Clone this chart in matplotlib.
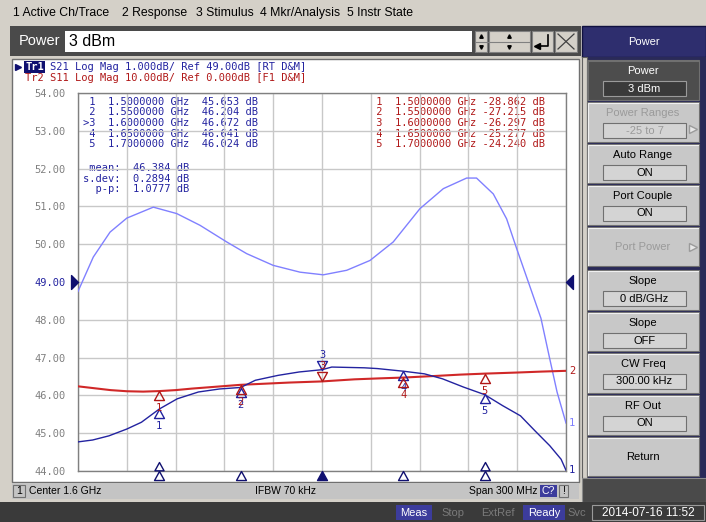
import matplotlib
matplotlib.use('Agg')
import numpy as np
import matplotlib.pyplot as plt
from matplotlib.patches import Rectangle
from matplotlib.path import Path
import matplotlib.transforms as mtrans

# ---------------- data ----------------
tr1_freq = [1.45, 1.459, 1.469, 1.480, 1.489, 1.500, 1.511, 1.524, 1.537, 1.550, 1.559,
            1.573, 1.586, 1.600, 1.606, 1.626, 1.634, 1.650, 1.663, 1.674, 1.687, 1.700,
            1.711, 1.722, 1.731, 1.740, 1.747, 1.750]
tr1_db = [44.77, 44.82, 44.93, 45.11, 45.29, 45.64, 45.91, 46.09, 46.17, 46.21, 46.40,
          46.53, 46.62, 46.68, 46.75, 46.73, 46.71, 46.64, 46.57, 46.44, 46.22, 46.02,
          45.73, 45.46, 45.06, 44.67, 44.31, 44.02]

mem_freq = [1.45, 1.4594, 1.4697, 1.480, 1.4963, 1.5107, 1.525, 1.5414, 1.5537, 1.570,
            1.5865, 1.6008, 1.6152, 1.6295, 1.6438, 1.6602, 1.6746, 1.6889, 1.695, 1.7053,
            1.7135, 1.7197, 1.7279, 1.7346, 1.740, 1.7445, 1.750]
mem_db = [48.75, 49.66, 50.32, 50.69, 50.98, 50.81, 50.50, 50.06, 49.75, 49.44,
          49.26, 49.19, 49.31, 49.57, 50.06, 50.94, 51.47, 51.75, 51.75, 51.33,
          50.67, 49.88, 48.87, 48.04, 46.97, 46.09, 45.27]

tr2_freq = [1.45, 1.46, 1.47, 1.48, 1.49, 1.50, 1.51, 1.52, 1.535, 1.55, 1.565, 1.58,
            1.60, 1.62, 1.635, 1.65, 1.67, 1.685, 1.70, 1.72, 1.735, 1.75]
tr2_db = [-27.6, -28.1, -28.6, -28.9, -29.0, -28.86, -28.6, -28.2, -27.7, -27.2, -26.9,
          -26.6, -26.3, -25.75, -25.5, -25.28, -24.85, -24.5, -24.24, -23.95, -23.7, -23.5]

marker_freq = [1.5, 1.55, 1.6, 1.65, 1.7]
marker_ids = ["1", "2", "3", "4", "5"]
tr1_marker_db = [45.653, 46.204, 46.672, 46.641, 46.024]
tr2_marker_db = [-28.862, -27.215, -26.297, -25.277, -24.240]
active_marker = 2
stat_names = ["mean:", "s.dev:", "p-p:"]
stat_values = ["46.384", "0.2894", "1.0777"]

tr1_ref, tr1_scale = 49.0, 1.0
tr2_ref, tr2_scale = 0.0, 10.0
ytick_vals = list(range(44, 55))

menu_items = ["1 Active Ch/Trace", "2 Response", "3 Stimulus", "4 Mkr/Analysis", "5 Instr State"]
softkeys = [("Power", "3 dBm"), ("Power Ranges", "-25 to 7"), ("Auto Range", "ON"),
            ("Port Couple", "ON"), ("Port Power", None), ("Slope", "0 dB/GHz"),
            ("Slope", "OFF"), ("CW Freq", "300.00 kHz"), ("RF Out", "ON"), ("Return", None)]
softkey_disabled = [False, True, False, False, True, False, False, False, False, False]

# ---------------- styles ----------------
MONO = 'DejaVu Sans Mono'
SANS = 'Liberation Sans'
BLUE = '#2323a0'
LBLUE = '#8080ff'
RED = '#d02828'
REDTXT = '#b01818'
NAVY = '#101070'
GRID = '#c8c8c8'
FS = 7.5

W, H = 706, 522
fig = plt.figure(figsize=(W / 100, H / 100), dpi=100)
fig.patch.set_facecolor('#d4d0c8')
bg = fig.add_axes([0, 0, 1, 1])
bg.set_xlim(0, W)
bg.set_ylim(H, 0)
bg.axis('off')


def rect(x0, y0, x1, y1, fc, ec='none', lw=0.0, z=1):
    bg.add_patch(Rectangle((x0, y0), x1 - x0, y1 - y0, facecolor=fc, edgecolor=ec,
                           linewidth=lw, zorder=z))


def txt(x, y, s, **kw):
    kw.setdefault('va', 'center')
    kw.setdefault('family', SANS)
    kw.setdefault('fontsize', 8)
    kw.setdefault('zorder', 4)
    bg.text(x, y, s, **kw)


# menu bar
menu_x = [13, 122, 196, 260, 347]
for mx, m in zip(menu_x, menu_items):
    txt(mx, 13, m, fontsize=8.8, color='black')

# entry row
rect(10, 26, 581, 56, '#4a4a4a')
txt(19, 41, "Power", fontsize=10.5, color='white')
rect(65, 31, 472, 52, 'white', z=2)
txt(69, 42, "3 dBm", fontsize=11.5, color='black')
rect(475, 31, 487, 52, '#d4d0c8', '#808080', 0.8, z=2)
rect(489, 31, 530, 52, '#d4d0c8', '#808080', 0.8, z=2)
bg.plot([475, 530], [41.5, 41.5], color='#808080', lw=0.8, zorder=3)
for xx in (481, 509):
    bg.plot([xx], [36], marker='^', ms=2.5, color='black', zorder=3)
    bg.plot([xx], [47], marker='v', ms=2.5, color='black', zorder=3)
rect(532, 31, 553, 52, '#d4d0c8', '#808080', 0.8, z=2)
bg.plot([548, 548, 537], [35, 46, 46], color='black', lw=1.2, zorder=3)
bg.plot([537], [46], marker='<', ms=4, color='black', zorder=3)
rect(555, 31, 577, 52, '#d4d0c8', '#808080', 0.8, z=2)
bg.plot([558, 574], [34, 49], color='#404040', lw=0.9, zorder=3)
bg.plot([558, 574], [49, 34], color='#404040', lw=0.9, zorder=3)

# right header
rect(582, 26, 706, 57, '#2e2e6e', '#101040', 1)
txt(644, 42, "Power", ha='center', color='white', fontsize=8)

# channel window
rect(10, 57, 581, 502, '#d4d0c8')
rect(12, 59, 579, 482, 'white', '#707070', 1)
rect(12, 483, 579, 499, '#c4c4c4')

# title lines
bg.plot([18], [67], marker='>', ms=5, color=NAVY, zorder=3)
txt(25, 67, "Tr1", family=MONO, fontsize=FS, color='white', fontweight='bold',
    bbox=dict(facecolor=NAVY, edgecolor='none', pad=0.6))
txt(50.2, 67, "S21 Log Mag 1.000dB/ Ref 49.00dB [RT D&M]", family=MONO, fontsize=FS, color=BLUE)
txt(25, 77.7, "Tr2 S11 Log Mag 10.00dB/ Ref 0.000dB [F1 D&M]", family=MONO, fontsize=FS, color=REDTXT)

# status bar of channel
rect(13, 485, 25, 497, '#c4c4c4', '#707070', 0.8)
txt(19, 491, "1", ha='center', fontsize=7.5)
txt(29, 491, "Center 1.6 GHz", fontsize=7.5)
txt(255, 491, "IFBW 70 kHz", fontsize=7.5)
txt(469, 491, "Span 300 MHz", fontsize=7.5)
rect(540, 485, 557, 497, '#3c3c9c')
txt(548.5, 491, "C?", ha='center', color='white', fontsize=7.5)
rect(559, 485, 568, 497, '#c4c4c4', '#707070', 0.8)
txt(563.5, 491, "!", ha='center', fontsize=7.5)

# softkey panel
rect(582, 57, 706, 502, '#2a2a58')
rect(582, 57, 587, 478, '#d4d0c8', '#606060', 0.8)
key_y = [(60, 100), (102, 142), (144, 183), (185, 225), (227, 266), (270, 310),
         (312, 351), (353, 393), (395, 435), (437, 476)]
for (title, val), dis, (y0, y1) in zip(softkeys, softkey_disabled, key_y):
    dark = title == "Power" and val == "3 dBm"
    fc = '#4d4d4d' if dark else '#c8c8c8'
    rect(587, y0, 699, y1, fc, '#707070', 0.8)
    bg.plot([588, 588, 698], [y1 - 1, y0 + 1, y0 + 1], color='#f0f0f0' if not dark else '#707070', lw=0.8, zorder=2)
    tcol = 'white' if dark else ('#9a9a9a' if dis else 'black')
    if val is None:
        txt(643, (y0 + y1) / 2, title, ha='center', color=tcol)
    else:
        txt(643, y0 + 11, title, ha='center', color=tcol)
        bfc = '#3a3a3a' if dark else '#d4d4d4'
        rect(603, y0 + 21, 686, y0 + 36, bfc, '#707070' if not dark else '#9a9a9a', 0.8, z=2)
        txt(644.5, y0 + 28.5, val, ha='center', color=tcol)
    if title in ("Power Ranges", "Port Power"):
        yy = (y0 + y1) / 2 if val is None else y0 + 27
        bg.plot([693], [yy], marker='>', ms=6, markerfacecolor='#e8e8e8', markeredgecolor='#9a9a9a', zorder=3)
rect(582, 478, 706, 502, '#4a4a4a', '#8a8a8a', 0.8)

# bottom status bar
rect(0, 502, 706, 522, '#3a3a3a')
rect(396, 505, 432, 520, '#3c3c9c')
txt(414, 512.5, "Meas", ha='center', color='white')
txt(453, 512.5, "Stop", ha='center', color='#7a7a7a')
txt(498, 512.5, "ExtRef", ha='center', color='#7a7a7a')
rect(523, 505, 565, 520, '#3c3c9c')
txt(544, 512.5, "Ready", ha='center', color='white')
txt(577, 512.5, "Svc", ha='center', color='#7a7a7a')
rect(592, 505, 704, 520, '#3a3a3a', '#9a9a9a', 0.8)
txt(648, 512.5, "2014-07-16 11:52", ha='center', color='white', fontsize=8.5)

# marker readouts
lines_y0, dy = 101.8, 10.6
for i, (mid, f, v) in enumerate(zip(marker_ids, marker_freq, tr1_marker_db)):
    pre = ">" if i == active_marker else " "
    txt(83, lines_y0 + i * dy, f"{pre}{mid}  {f:.7f} GHz  {v:.3f} dB", family=MONO, fontsize=FS, color=BLUE, zorder=5)
for i, (mid, f, v) in enumerate(zip(marker_ids, marker_freq, tr2_marker_db)):
    txt(370.4, lines_y0 + i * dy, f" {mid}  {f:.7f} GHz {v:.3f} dB", family=MONO, fontsize=FS, color=REDTXT, zorder=5)
for i, (n, v) in enumerate(zip(stat_names, stat_values)):
    txt(83, 168.3 + i * dy, f"{n:>6}  {v} dB", family=MONO, fontsize=FS, color=BLUE, zorder=5)

# ---------------- plot axes ----------------
ax = fig.add_axes([78 / W, 1 - 471 / H, 488 / W, 378 / H])
ax.set_zorder(2)
bg.set_zorder(1)
ax.patch.set_alpha(0)
ax.set_xlim(1.45, 1.75)
ax.set_ylim(44, 54)
ax.set_xticks(np.linspace(1.45, 1.75, 11))
ax.set_xticklabels([])
ax.set_yticks(ytick_vals)
ax.set_yticklabels([f"{v:.2f}" for v in ytick_vals], family=MONO, fontsize=FS, color='#808080')
for lab, v in zip(ax.get_yticklabels(), ytick_vals):
    if v == tr1_ref:
        lab.set_color(BLUE)
ax.tick_params(length=0, pad=9)
ax.grid(True, color=GRID, lw=1)
ax.set_axisbelow(True)
for s in ax.spines.values():
    s.set_color('#808080')
    s.set_linewidth(1)

tr2_disp = [tr1_ref + (v - tr2_ref) / tr2_scale for v in tr2_db]
tr2_mk_disp = [tr1_ref + (v - tr2_ref) / tr2_scale for v in tr2_marker_db]

ax.plot(mem_freq, mem_db, color=LBLUE, lw=1, zorder=3)
ax.plot(tr2_freq, tr2_disp, color=RED, lw=1.5, zorder=4)
ax.plot(tr1_freq, tr1_db, color=BLUE, lw=1, zorder=5)

up_tri = Path([(0, 0), (-0.55, -1), (0.55, -1), (0, 0)], [1, 2, 2, 79])
dn_tri = Path([(0, 0), (-0.55, 1), (0.55, 1), (0, 0)], [1, 2, 2, 79])
rt_tri = Path([(0, 0), (-1, 1), (-1, -1), (0, 0)], [1, 2, 2, 79])
lt_tri = Path([(0, 0), (1, 1), (1, -1), (0, 0)], [1, 2, 2, 79])

for vals, col in ((tr1_marker_db, BLUE), (tr2_mk_disp, REDTXT)):
    for i, (f, v, mid) in enumerate(zip(marker_freq, vals, marker_ids)):
        if i == active_marker:
            ax.plot([f], [v], marker=dn_tri, ms=13, mfc='none', mec=col, mew=1, zorder=6)
            ax.annotate(mid, (f, v), xytext=(0, 15), textcoords='offset pixels', ha='center',
                        va='center', family=MONO, fontsize=FS, color=col, zorder=6)
        else:
            ax.plot([f], [v], marker=up_tri, ms=13, mfc='none', mec=col, mew=1, zorder=6)
            ax.annotate(mid, (f, v), xytext=(0, -17), textcoords='offset pixels', ha='center',
                        va='center', family=MONO, fontsize=FS, color=col, zorder=6)

# stimulus markers on the bottom edge
bl = mtrans.blended_transform_factory(ax.transData, ax.transAxes)
for i, f in enumerate(marker_freq):
    ax.plot([f], [0], marker=up_tri, ms=13, transform=bl, clip_on=False,
            mfc=NAVY if i == active_marker else 'none', mec=NAVY, mew=1, zorder=6)
for f in (marker_freq[0], marker_freq[-1]):
    ax.plot([f], [0.024], marker=up_tri, ms=12, transform=bl, clip_on=False,
            mfc='none', mec=NAVY, mew=1, zorder=6)

# reference position arrows
br = mtrans.blended_transform_factory(ax.transAxes, ax.transData)
ax.plot([0], [tr1_ref], marker=rt_tri, ms=10, color=NAVY, transform=br, clip_on=False, zorder=6)
ax.plot([1.0], [tr1_ref], marker=lt_tri, ms=10, color=NAVY, transform=br, clip_on=False, zorder=6)

# trace end labels
for xs, ys, lab, col in ((mem_freq, mem_db, "1", LBLUE), (tr1_freq, tr1_db, "1", BLUE),
                         (tr2_freq, tr2_disp, "2", REDTXT)):
    ax.annotate(lab, (xs[-1], ys[-1]), xytext=(6, 0), textcoords='offset pixels', ha='center',
                va='center', family=MONO, fontsize=FS, color=col, annotation_clip=False, zorder=6)

fig.savefig('out.png', dpi=100)
